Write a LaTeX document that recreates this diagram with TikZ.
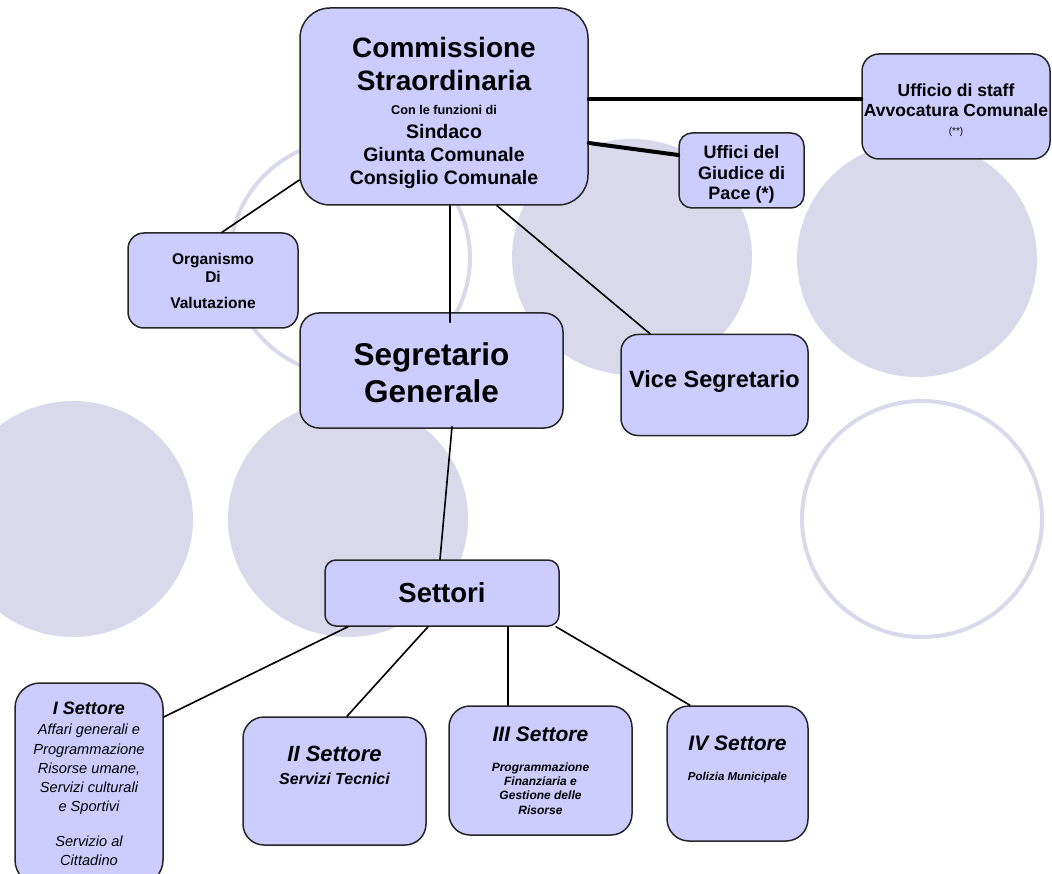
\documentclass[tikz,border=0pt]{standalone}
\usepackage{fontspec}
\setmainfont{Liberation Sans}
\usetikzlibrary{positioning}
\definecolor{boxfill}{HTML}{CCCCFF}
\definecolor{discfill}{HTML}{DAD9EC}
\newcommand{\fs}[2]{\fontsize{#1}{#2}\selectfont}
\tikzset{
  orgbox/.style={draw=black!85,line width=1.5pt,fill=boxfill,rounded corners=#1,align=center,inner sep=0pt},
  orgbox/.default=16pt,
  thinlink/.style={line width=1.6pt},
  thicklink/.style={line width=4pt},
  disc/.style={fill=discfill,draw=none},
  ring/.style={draw=discfill,line width=4pt}
}
\begin{document}
\begin{tikzpicture}[line cap=round,line join=round,x=1pt,y=-1pt,font=\bfseries]
		\useasboundingbox (0,0) rectangle (1052,874);
		\clip (0,0) rectangle (1052,874);
		% sfondo
		\draw [ring] (350,258) ellipse (120 and 118);
		\fill [disc] (632,257) ellipse (120 and 118);
		\fill [disc] (917,259) ellipse (120 and 118);
		\fill [disc] (73,519) ellipse (120 and 118);
		\fill [disc] (348,519) ellipse (120 and 118);
		\draw [ring] (922,519) ellipse (120 and 118);
		% vertice
		\node [orgbox=30pt,minimum width=288pt,minimum height=197pt,font=\bfseries\fs{19.5}{23}] (comm) at (444,106.5)
			{\rule{0pt}{34pt}\fs{28}{23}Commissione\\[10pt]\fs{28}{23}Straordinaria\\[0.5pt]\fs{12.7}{23}Con le funzioni di\\[1.5pt]Sindaco\\Giunta Comunale\\Consiglio Comunale};
		\node [orgbox=17pt,minimum width=188pt,minimum height=105pt,font=\bfseries\fs{17.5}{20}] (staff) at (956,106.5)
			{\rule{0pt}{21pt}Ufficio di staff\\Avvocatura Comunale\\[-2pt]\fs{10}{20}\mdseries(**)};
		\node [orgbox=13pt,minimum width=125pt,minimum height=75pt,font=\bfseries\fs{18}{20.5}] (giudice) at (741.5,170.5)
			{\rule{0pt}{21pt}Uffici del\\Giudice di\\Pace (*)};
		\node [orgbox=16pt,minimum width=170pt,minimum height=95pt,font=\bfseries\fs{15.5}{18}] (organismo) at (213,280.5)
			{Organismo\\Di\\[8pt]Valutazione};
		% segreteria
		\node [orgbox=19pt,minimum width=263pt,minimum height=115pt,font=\bfseries\fs{31.5}{37}] (segretario) at (431.5,370.5)
			{\rule{0pt}{28pt}Segretario\\Generale};
		\node [orgbox=17pt,minimum width=187pt,minimum height=101pt,font=\bfseries\fs{23.5}{27}] (vice) at (714.5,385)
			{Vice Segretario\\[-14pt]\mbox{}};
		\node [orgbox=11pt,minimum width=234pt,minimum height=66pt,font=\bfseries\fs{27.5}{32}] (settori) at (442,593)
			{Settori};
		% settori
		\node [orgbox=25pt,minimum width=148pt,minimum height=202pt,font=\mdseries\itshape\fs{14.6}{19.2}] (sec1) at (89,784)
			{\fs{18}{19.2}\bfseries I Settore\\[1.3pt]Affari generali e\\Programmazione\\Risorse umane,\\Servizi culturali\\e Sportivi\\[15.8pt]Servizio al\\Cittadino};
		\node [orgbox=21pt,minimum width=183pt,minimum height=128pt,font=\bfseries\itshape\fs{16}{19}] (sec2) at (334.5,781)
			{\fs{22}{19}II Settore\\[4pt]Servizi Tecnici\\[12pt]\mbox{}};
		\node [orgbox=21pt,minimum width=183pt,minimum height=129pt,font=\bfseries\itshape\fs{12}{14.3}] (sec3) at (540.5,770.5)
			{\fs{21}{14.3}III Settore\\[15.5pt]Programmazione\\Finanziaria e\\Gestione delle\\Risorse};
		\node [orgbox=22pt,minimum width=141pt,minimum height=135pt,font=\bfseries\itshape\fs{11.5}{13}] (sec4) at (737.5,773.5)
			{\fs{21}{13}IV Settore\\[17.5pt]Polizia Municipale\\[17.5pt]\mbox{}};
		% collegamenti
		\draw [thicklink] ([yshift=7.5pt]staff.west) -- ([yshift=7.5pt]staff.west -| comm.east);
		\draw [thicklink] ([yshift=-36.5pt]comm.east) -- ([yshift=15.5pt]giudice.west);
		\draw [thinlink] ([yshift=-73.5pt]comm.west) -- ([xshift=9pt]organismo.north);
		\draw [thinlink] ([xshift=6pt]comm.south) -- ([xshift=18.5pt,yshift=-10pt]segretario.north);
		\draw [thinlink] ([xshift=53pt]comm.south) -- ([xshift=-64.5pt]vice.north);
		\draw [thinlink] ([xshift=20.5pt,yshift=2pt]segretario.south) -- ([xshift=-2pt]settori.north);
		\draw [thinlink] ([xshift=-94pt]settori.south) -- ([yshift=67pt]sec1.east);
		\draw [thinlink] ([xshift=-14pt]settori.south) -- ([xshift=12.5pt]sec2.north);
		\draw [thinlink] ([xshift=66pt]settori.south) -- ([xshift=-32.5pt]sec3.north);
		\draw [thinlink] ([xshift=114pt]settori.south) -- ([xshift=-47.5pt]sec4.north);
\end{tikzpicture}
\end{document}
